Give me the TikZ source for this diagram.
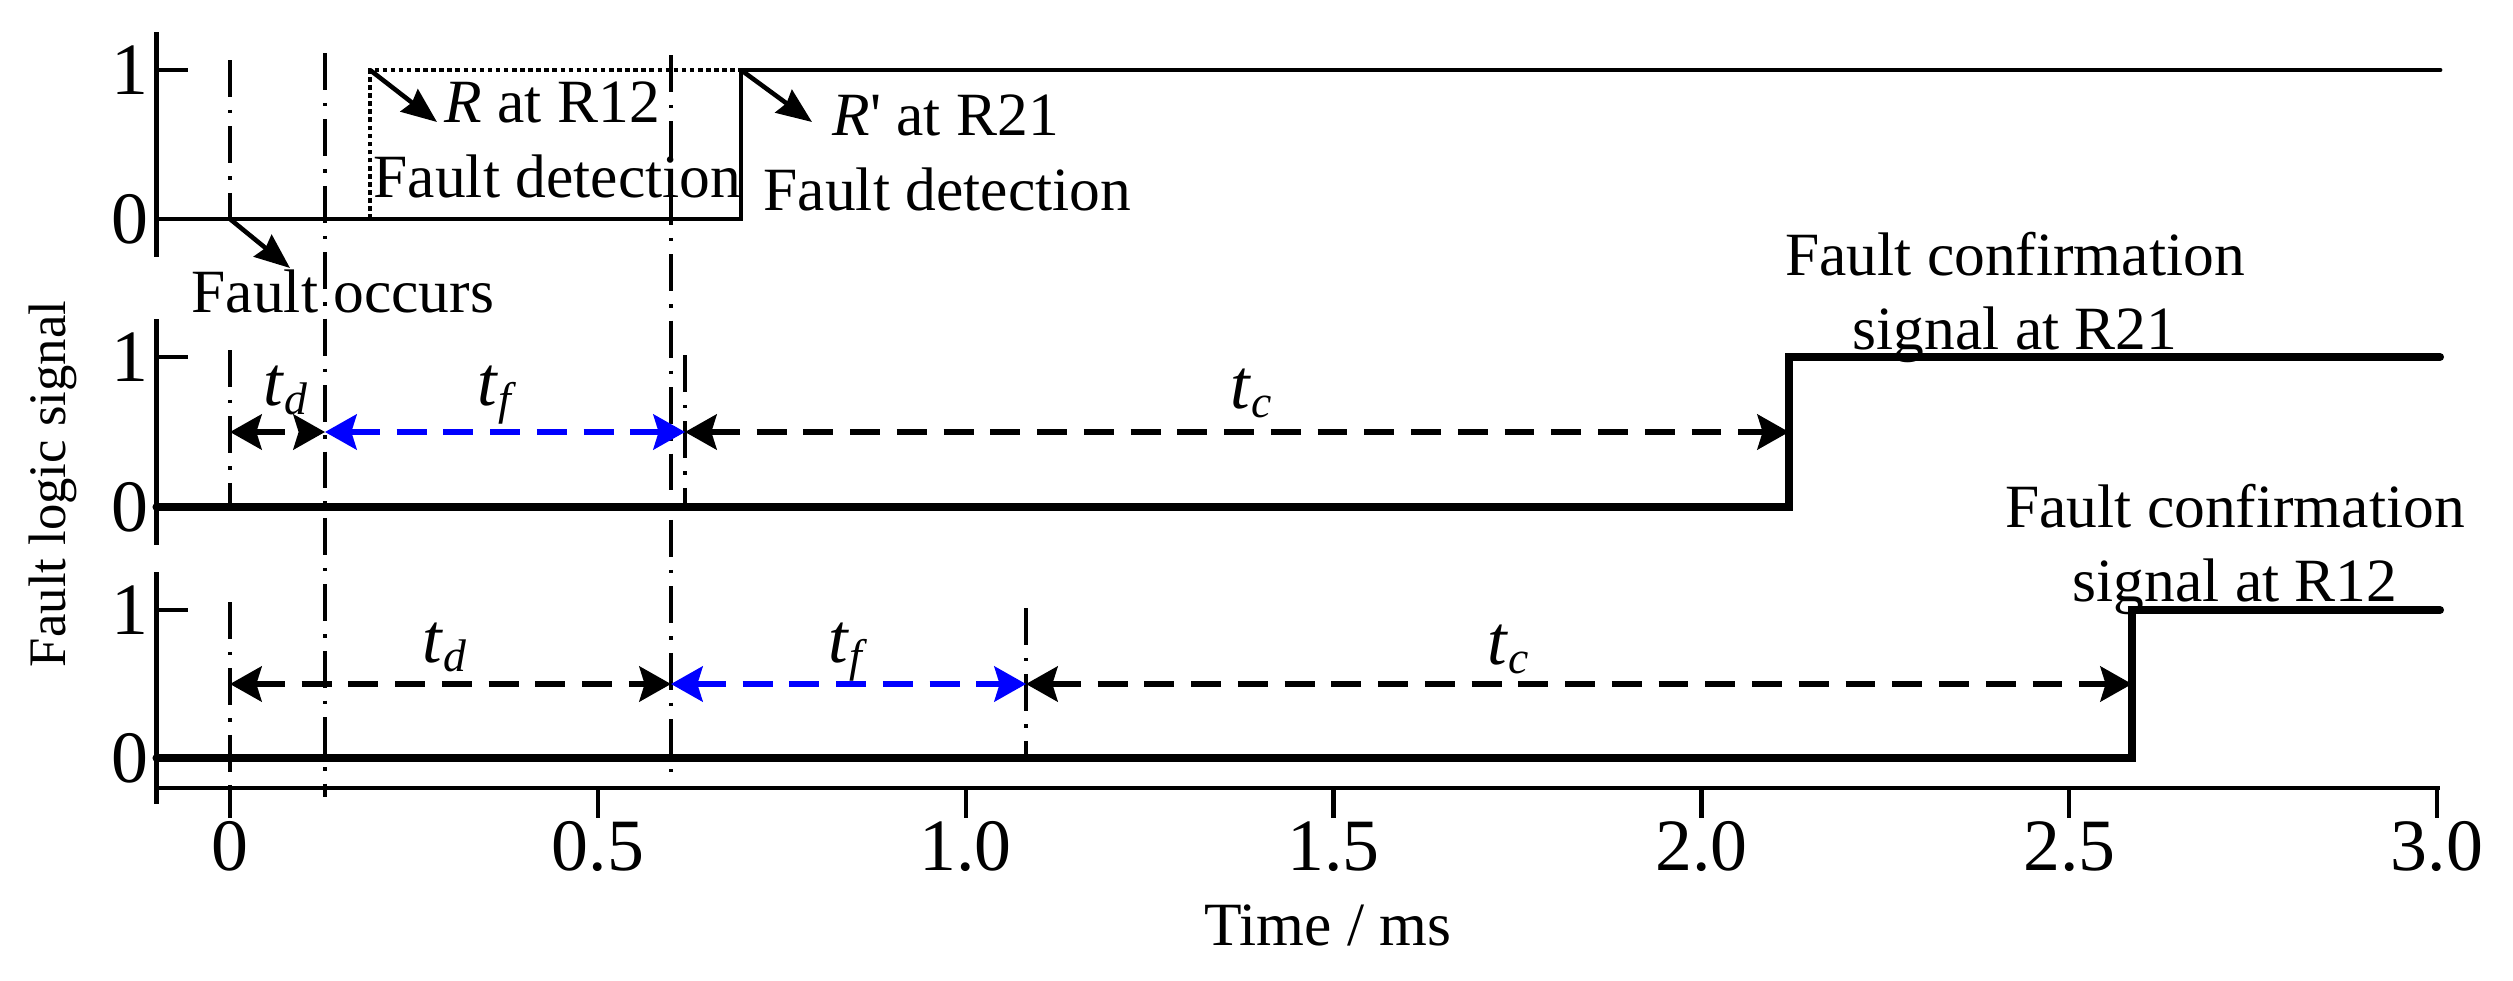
\documentclass[tikz,border=0pt]{standalone}
\usepackage{fontspec}
\setmainfont{Liberation Serif}
\usetikzlibrary{arrows.meta,positioning}

\newcommand{\tsub}[1]{\textit{t}\raisebox{-2.8pt}{\fontsize{13}{13}\selectfont\textit{#1}}}

\begin{document}
\begin{tikzpicture}[line join=miter]
    \tikzstyle{axisline} = [draw, line width=1.2pt]
    \tikzstyle{sig} = [draw, line width=1.4pt, line cap=round]
    \tikzstyle{thicksig} = [draw, line width=2.3pt, line cap=round]
    \tikzstyle{marker} = [draw, line width=1.15pt,
               dash pattern=on 10.5pt off 3.7pt on 1pt off 3.7pt]
    \tikzstyle{dotline} = [draw, line width=1.2pt, dash pattern=on 1.3pt off 1pt]
    \tikzstyle{span} = [draw, line width=1.5pt, dash pattern=on 8.5pt off 4.8pt,
               {Stealth[length=9pt,width=10pt,inset=1.5pt]}-{Stealth[length=9pt,width=10pt,inset=1.5pt]}]
    \tikzstyle{note} = [draw, line width=1.3pt, -{Stealth[length=10pt,width=8pt,inset=1pt]}]
    \tikzstyle{lbl} = [font=\fontsize{17.5}{21}\selectfont, inner sep=0pt]
    \tikzstyle{num} = [font=\fontsize{21}{24}\selectfont, inner sep=0pt]
    \tikzstyle{tl} = [font=\fontsize{20}{22}\selectfont, inner sep=0pt]

    \useasboundingbox (0,0) rectangle (25.13,-9.81);

    % Define axes
    \draw[axisline] (1.565,-0.32) -- (1.565,-2.57);
    \draw[axisline] (1.565,-0.70) -- (1.88,-0.70);
    \draw[axisline] (1.565,-3.19) -- (1.565,-5.45);
    \draw[axisline] (1.565,-3.57) -- (1.88,-3.57);
    \draw[axisline] (1.565,-5.72) -- (1.565,-8.04);
    \draw[axisline] (1.565,-6.10) -- (1.88,-6.10);
    \draw[axisline] (1.565,-7.88) -- (24.40,-7.88);
    \foreach \t/\lab in {0/0, 0.5/0.5, 1.0/1.0, 1.5/1.5, 2.0/2.0, 2.5/2.5, 3.0/3.0} {
      \draw[axisline] ({2.30+7.357*\t},-7.88) -- ++(0,-0.30);
      \node[num, anchor=north] (tick\lab) at ({2.30+7.357*\t},-8.21) {\lab};
    }
    \foreach \y/\n in {-0.70/1, -2.19/0, -3.57/1, -5.07/0, -6.10/1, -7.58/0}
      \node[num, anchor=east] (lev\y) at (1.49,\y) {\n};

    \node[lbl, font=\fontsize{15}{18}\selectfont, rotate=90] (ylab) at (0.53,-4.84) {Fault logic signal};
    \node[lbl, anchor=base] (xlab) at (13.28,-9.45) {Time / ms};

    % Define time markers
    \draw[marker] (2.30,-0.60) -- (2.30,-2.19);
    \draw[marker] (2.30,-3.50) -- (2.30,-5.07);
    \draw[marker] (2.30,-6.02) -- (2.30,-7.88);
    \draw[marker] (3.25,-0.53) -- (3.25,-7.97);
    \draw[marker] (6.71,-0.55) -- (6.71,-7.72);
    \draw[marker] (6.85,-3.55) -- (6.85,-5.05);
    \draw[marker] (10.26,-6.08) -- (10.26,-7.55);

    % Define signals
    \draw[dotline] (3.70,-2.19) -- (3.70,-0.70) -- (7.41,-0.70);
    \draw[sig] (1.565,-2.19) -- (7.41,-2.19) -- (7.41,-0.70) -- (24.40,-0.70);
    \draw[thicksig] (1.565,-5.07) -- (17.89,-5.07) -- (17.89,-3.57) -- (24.40,-3.57);
    \draw[thicksig] (1.565,-7.58) -- (21.32,-7.58) -- (21.32,-6.10) -- (24.40,-6.10);

    % Top panel notes
    \coordinate (occ0) at (2.30,-2.19);
    \coordinate (occ1) at (2.90,-2.68);
    \coordinate (r0) at (3.70,-0.70);
    \coordinate (r1) at (4.37,-1.22);
    \coordinate (rr0) at (7.41,-0.70);
    \coordinate (rr1) at (8.12,-1.22);
    \draw[note] (occ0) -- (occ1);
    \draw[note] (r0) -- (r1);
    \draw[note] (rr0) -- (rr1);
    \node[lbl, anchor=base west] (occ) at (1.91,-3.12) {Fault occurs};
    \node[lbl, anchor=base west] (r12) at (4.44,-1.22) {\textit{R} at R12};
    \node[lbl, anchor=base west] (det1) at (3.73,-1.97) {Fault detection};
    \node[lbl, anchor=base west] (r21) at (8.32,-1.35) {\textit{R}\textquotesingle{} at R21};
    \node[lbl, anchor=base west] (det2) at (7.63,-2.10) {Fault detection};
    \node[lbl, align=center, anchor=south] (conf21) at (20.15,-3.63) {Fault confirmation\\signal at R21};
    \node[lbl, align=center, anchor=south] (conf12) at (22.35,-6.15) {Fault confirmation\\signal at R12};

    % Middle panel spans
    \coordinate (m0) at (2.30,-4.32);
    \coordinate (m1) at (3.25,-4.32);
    \coordinate (m2) at (6.85,-4.32);
    \coordinate (m3) at (17.89,-4.32);
    \draw[span] (m0) -- (m1);
    \draw[span, blue] (m1) -- (m2);
    \draw[span] (m2) -- (m3);
    \node[tl, anchor=base west] (mtd) at (2.63,-4.05) {\tsub{d}};
    \node[tl, anchor=base west] (mtf) at (4.77,-4.05) {\tsub{f}};
    \node[tl, anchor=base west] (mtc) at (12.30,-4.08) {\tsub{c}};

    % Bottom panel spans
    \coordinate (b0) at (2.30,-6.84);
    \coordinate (b1) at (6.71,-6.84);
    \coordinate (b2) at (10.26,-6.84);
    \coordinate (b3) at (21.32,-6.84);
    \draw[span] (b0) -- (b1);
    \draw[span, blue] (b1) -- (b2);
    \draw[span] (b2) -- (b3);
    \node[tl, anchor=base west] (btd) at (4.22,-6.62) {\tsub{d}};
    \node[tl, anchor=base west] (btf) at (8.28,-6.62) {\tsub{f}};
    \node[tl, anchor=base west] (btc) at (14.87,-6.64) {\tsub{c}};
\end{tikzpicture}
\end{document}
